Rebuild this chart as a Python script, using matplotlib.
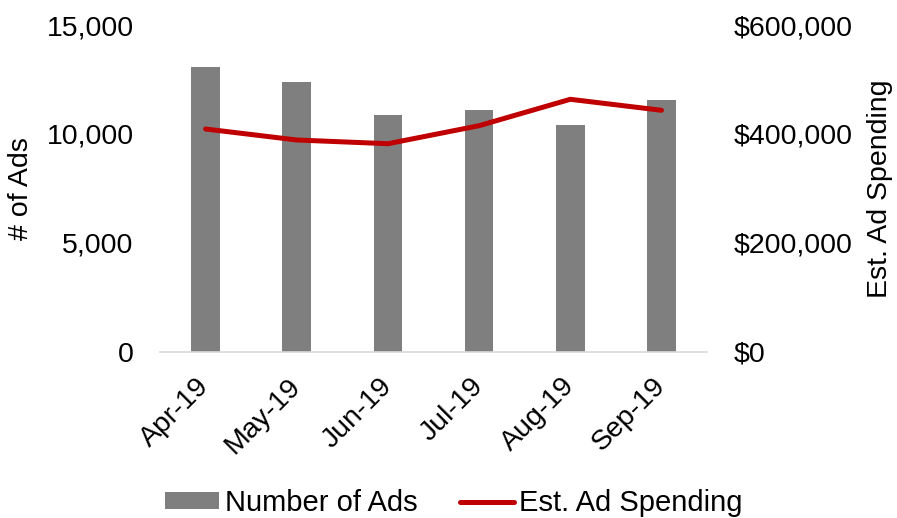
import matplotlib
matplotlib.use("Agg")
import matplotlib.pyplot as plt
from matplotlib.ticker import FuncFormatter

plt.rcParams['font.family'] = ['Liberation Sans', 'DejaVu Sans']
plt.rcParams['font.size'] = 20.5

months = ['Apr-19', 'May-19', 'Jun-19', 'Jul-19', 'Aug-19', 'Sep-19']
num_ads = [13070, 12370, 10860, 11110, 10390, 11540]
ad_spend = [408900, 388700, 381900, 415000, 463500, 443300]

fig = plt.figure(figsize=(8.97, 5.18), dpi=100)
ax = fig.add_axes([0.1784, 0.3214, 0.6098, 0.6303])
ax2 = ax.twinx()

x = range(len(months))
bars = ax.bar(x, num_ads, width=0.315, color='#7f7f7f', label='Number of Ads', zorder=2)
line, = ax2.plot(x, ad_spend, color='#c00000', linewidth=3.6,
                 solid_capstyle='round', solid_joinstyle='round', label='Est. Ad Spending')

ax.set_xlim(-0.5, 5.5)
ax.set_ylim(0, 15000)
ax2.set_ylim(0, 600000)
ax.set_yticks([0, 5000, 10000, 15000])
ax2.set_yticks([0, 200000, 400000, 600000])
ax.yaxis.set_major_formatter(FuncFormatter(lambda v, p: f'{int(v):,}'))
ax2.yaxis.set_major_formatter(FuncFormatter(lambda v, p: f'${int(v):,}'))

ax.set_xticks(list(x))
ax.set_xticklabels(months, rotation=45, ha='right', va='center', rotation_mode='anchor')

for a in (ax, ax2):
    for s in ('top', 'left', 'right'):
        a.spines[s].set_visible(False)
    a.spines['bottom'].set_color('#d9d9d9')
    a.spines['bottom'].set_linewidth(1.2)
ax2.spines['bottom'].set_visible(False)

ax.tick_params(axis='y', length=0, pad=19)
ax2.tick_params(axis='y', length=0, pad=19)
ax.tick_params(axis='x', length=0, pad=22)

ax.set_ylabel('# of Ads', va='center')
ax.yaxis.set_label_coords(-0.254, 0.5)
ax2.set_ylabel('Est. Ad Spending', va='center')
ax2.yaxis.set_label_coords(1.316, 0.5)

fig.legend([bars, line], ['Number of Ads', 'Est. Ad Spending'],
           loc='center', bbox_to_anchor=(454 / 897, 1 - 503 / 518),
           ncol=2, frameon=False, fontsize=21, handlelength=1.85, handleheight=0.5,
           handletextpad=0.2, columnspacing=1.45, borderpad=0, borderaxespad=0)

fig.savefig('out.png', dpi=100)
